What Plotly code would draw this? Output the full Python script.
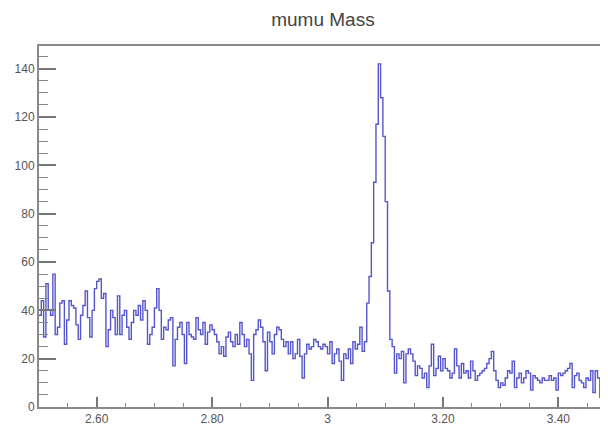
import numpy as np
import plotly.graph_objects as go

# Histogram: mumu invariant mass, bins of 0.004 from 2.5 to 3.5
bin_start = 2.5
bin_width = 0.004
counts = [
    38, 44, 29, 51, 40, 38, 55, 30, 33, 43,
    44, 26, 36, 44, 42, 41, 34, 28, 38, 42,
    48, 37, 29, 40, 49, 52, 53, 45, 47, 25,
    32, 40, 37, 30, 46, 30, 38, 40, 33, 28,
    35, 40, 38, 42, 36, 44, 40, 26, 30, 33,
    41, 49, 40, 28, 33, 32, 36, 37, 17, 28,
    33, 35, 30, 18, 35, 30, 29, 28, 37, 32,
    30, 35, 26, 31, 34, 32, 30, 27, 22, 25,
    21, 29, 31, 27, 25, 30, 26, 35, 30, 25,
    28, 22, 11, 30, 32, 36, 33, 27, 15, 31,
    27, 22, 30, 33, 32, 28, 25, 27, 22, 27,
    20, 22, 28, 21, 12, 22, 26, 24, 25, 28,
    27, 25, 24, 26, 25, 22, 27, 18, 22, 24,
    19, 11, 22, 20, 24, 18, 27, 24, 26, 33,
    23, 27, 43, 54, 68, 93, 117, 142, 128, 112,
    85, 48, 28, 25, 14, 22, 20, 23, 10, 22,
    24, 22, 19, 13, 17, 16, 12, 14, 8, 17,
    26, 13, 16, 21, 15, 20, 16, 15, 12, 14,
    24, 17, 12, 18, 14, 15, 12, 19, 15, 11,
    13, 14, 15, 16, 18, 20, 23, 15, 11, 8,
    10, 9, 12, 15, 14, 19, 8, 12, 14, 10,
    12, 15, 14, 7, 13, 12, 11, 10, 12, 11,
    11, 13, 11, 12, 7, 14, 13, 14, 15, 16,
    18, 8, 13, 14, 11, 10, 8, 12, 11, 15,
    6, 15, 12, 4, 8, 10, 9, 10, 11, 9,
]

x_tickvals = [2.6, 2.8, 3.0, 3.2, 3.4]
x_ticktext = ["2.60", "2.80", "3", "3.20", "3.40"]
y_tickvals = [0, 20, 40, 60, 80, 100, 120, 140]
y_ticktext = ["0", "20", "40", "60", "80", "100", "120", "140"]

edges = bin_start + bin_width * np.arange(len(counts) + 1)
xs = list(edges)
ys = list(counts) + [counts[-1]]

fig = go.Figure()
fig.add_trace(go.Scatter(
    x=xs, y=ys, mode="lines", line_shape="hv",
    line=dict(color="#5656cc", width=1.4),
    hoverinfo="skip", showlegend=False,
))

axis_col = "#8a8a8a"
font_fam = "Liberation Sans, Arial, sans-serif"
fig.update_layout(
    width=608, height=423,
    margin=dict(l=31, r=0, t=38, b=24),
    paper_bgcolor="white", plot_bgcolor="white",
    title=dict(text="mumu Mass", x=0.518, xanchor="center", y=0.974, yanchor="middle",
               font=dict(family=font_fam, size=19, color="#444444")),
    xaxis=dict(
        range=[2.5, 3.5], showgrid=False, zeroline=False,
        showline=True, mirror=True, linecolor=axis_col, linewidth=2,
        tickmode="array", tickvals=x_tickvals, ticktext=x_ticktext,
        ticks="inside", ticklen=10, tickwidth=1.5, tickcolor="#777777",
        tickfont=dict(family=font_fam, size=12, color="#555555"),
        minor=dict(dtick=0.05, tick0=2.5, ticks="inside", ticklen=4, tickwidth=1, tickcolor="#888888", showgrid=False),
    ),
    yaxis=dict(
        range=[0, 149.4], showgrid=False, zeroline=False,
        showline=True, linecolor=axis_col, linewidth=2,
        tickmode="array", tickvals=y_tickvals, ticktext=y_ticktext,
        ticks="inside", ticklen=17, tickwidth=1.5, tickcolor="#777777",
        tickfont=dict(family=font_fam, size=12, color="#555555"),
        minor=dict(dtick=5, tick0=0, ticks="inside", ticklen=9, tickwidth=1, tickcolor="#888888", showgrid=False),
    ),
)

fig.write_html("out.html")
